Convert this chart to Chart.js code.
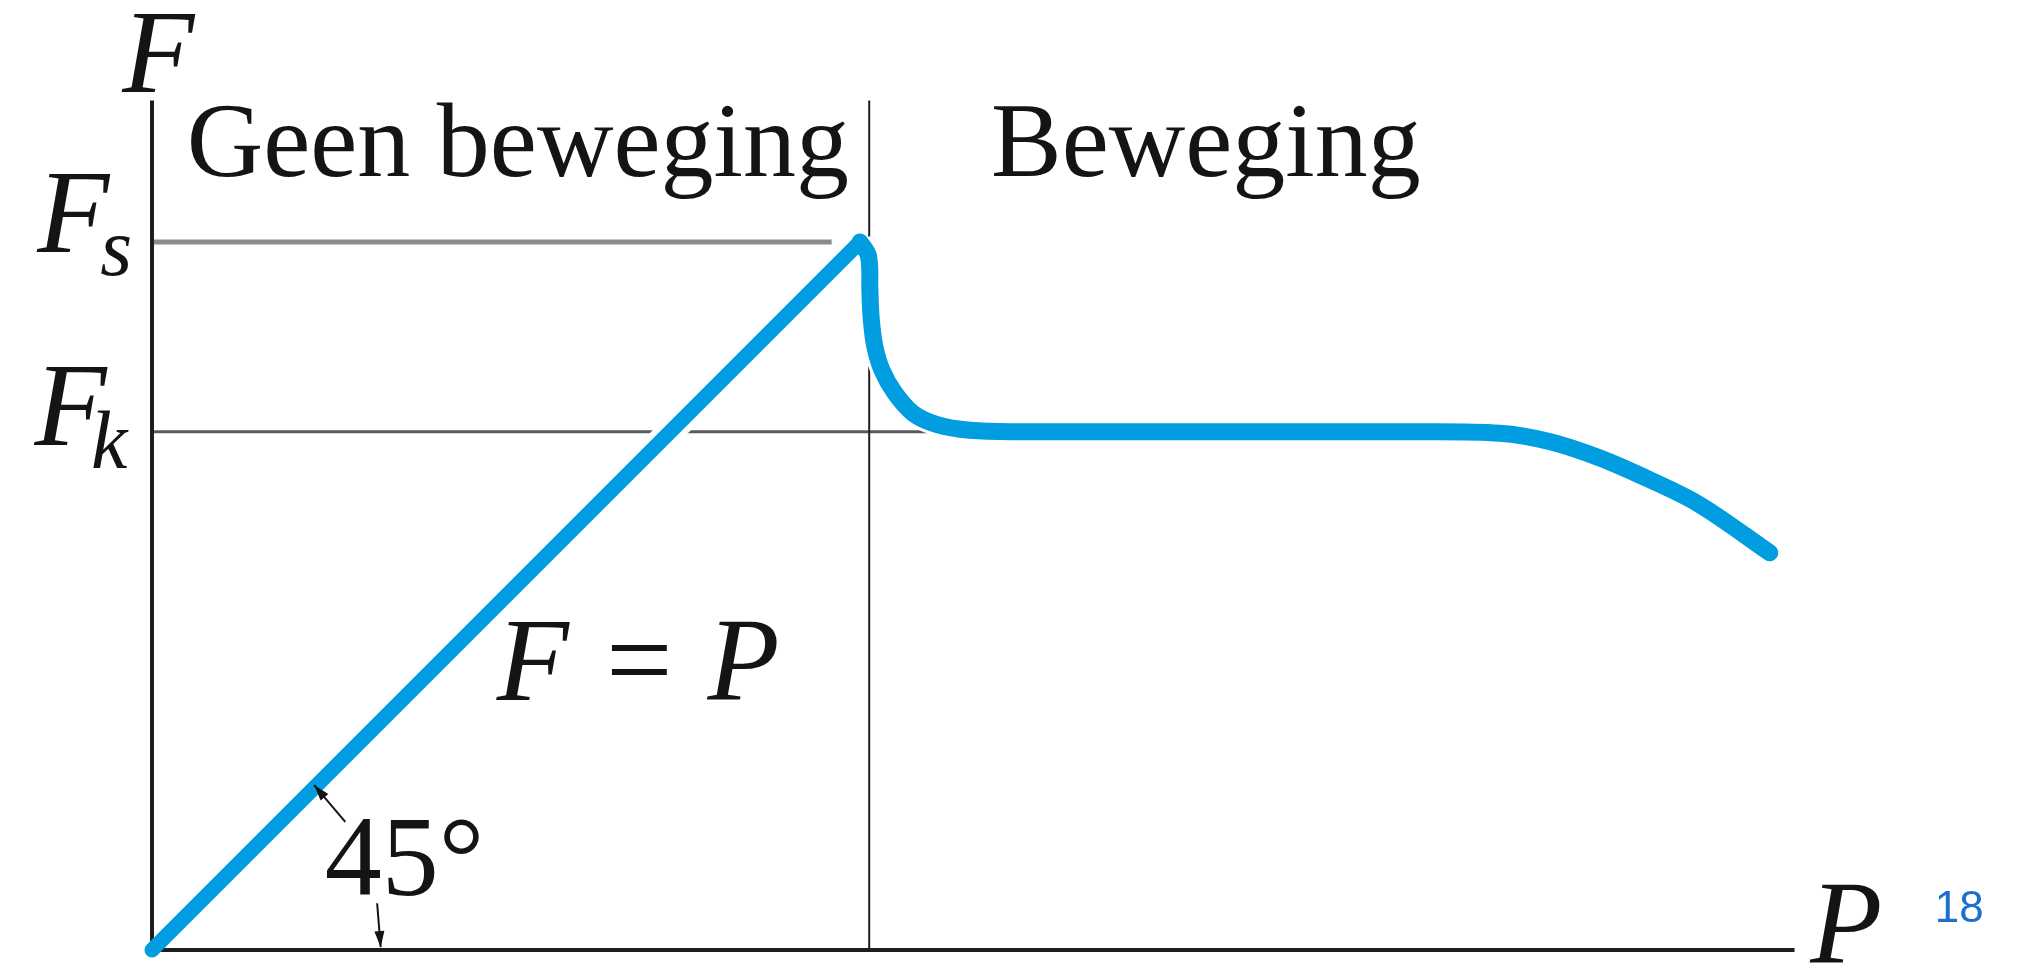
<!DOCTYPE html>
<html>
<head>
<meta charset="utf-8">
<script src="https://cdn.jsdelivr.net/npm/chart.js@4"></script>
<style>
  html, body { margin: 0; padding: 0; background: #fff; }
  canvas { display: block; }
</style>
</head>
<body>
<canvas id="fric" width="2019" height="964"></canvas>
<script>
// friction diagram: F against P, static peak then kinetic plateau
const riseP = [0, 10.0];
const riseF = [0, 10.0];
const dropP = [10.0, 10.12, 10.14, 10.16, 10.21, 10.31, 10.49, 10.75, 11.09, 11.55, 12.2, 17.63, 19.04, 19.75, 20.45, 21.16, 21.86, 22.85];
const dropF = [10.0, 9.80, 9.30, 8.90, 8.52, 8.19, 7.87, 7.58, 7.42, 7.34, 7.32, 7.32, 7.30, 7.18, 6.95, 6.64, 6.29, 5.61];
const FS = 10.0;      // static friction level
const FK = 7.32;      // kinetic friction level
const fsEnd = 9.6;
const fkEnd = 10.96;
const splitP = 10.13; // Geen beweging | Beweging
const axisP = 23.2;
const axisF = 12.0;

const BLUE = '#009ee0';
const pts = (xs, ys) => xs.map((x, i) => ({ x, y: ys[i] }));
const seg = (x0, y0, x1, y1) => [{ x: x0, y: y0 }, { x: x1, y: y1 }];

const base = { showLine: true, pointRadius: 0, clip: false, tension: 0 };

const labels = {
  id: 'labels',
  afterDatasetsDraw(chart) {
    const { ctx, scales: { x, y } } = chart;
    const px = (v) => x.getPixelForValue(v);
    const py = (v) => y.getPixelForValue(v);
    const txt = (s, vx, vy, font, color) => {
      ctx.font = font;
      ctx.fillStyle = color || '#141414';
      ctx.textBaseline = 'alphabetic';
      ctx.textAlign = 'left';
      ctx.fillText(s, px(vx), py(vy));
    };
    const serif = '"Liberation Serif", "DejaVu Serif", serif';
    ctx.save();
    txt('F', -0.42, 12.12, `italic 118px ${serif}`);
    txt('Geen beweging', 0.49, 10.93, `106px ${serif}`);
    txt('Beweging', 11.85, 10.93, `106px ${serif}`);
    txt('F', -1.62, 9.86, `italic 118px ${serif}`);
    txt('s', -0.73, 9.53, `italic 82px ${serif}`);
    txt('F', -1.66, 7.13, `italic 118px ${serif}`);
    txt('k', -0.86, 6.81, `italic 82px ${serif}`);
    txt('F = P', 4.87, 3.53, `italic 118px ${serif}`);
    txt('45°', 2.44, 0.78, `114px ${serif}`);
    txt('P', 23.42, -0.18, `italic 118px ${serif}`);
    txt('18', 25.18, 0.4, '44px "Liberation Sans", Arial, sans-serif', '#1d6fce');

    // angle arrows
    const arrow = (x0, y0, x1, y1) => {
      const a = [px(x0), py(y0)], b = [px(x1), py(y1)];
      const ang = Math.atan2(b[1] - a[1], b[0] - a[0]);
      ctx.strokeStyle = '#141414';
      ctx.fillStyle = '#141414';
      ctx.lineWidth = 2;
      ctx.beginPath(); ctx.moveTo(a[0], a[1]); ctx.lineTo(b[0], b[1]); ctx.stroke();
      const L = 16, W = 5;
      ctx.beginPath();
      ctx.moveTo(b[0], b[1]);
      ctx.lineTo(b[0] - L * Math.cos(ang) + W * Math.sin(ang), b[1] - L * Math.sin(ang) - W * Math.cos(ang));
      ctx.lineTo(b[0] - L * Math.cos(ang) - W * Math.sin(ang), b[1] - L * Math.sin(ang) + W * Math.cos(ang));
      ctx.closePath(); ctx.fill();
    };
    arrow(2.73, 1.81, 2.29, 2.33);
    arrow(3.18, 0.66, 3.23, 0.04);
    ctx.restore();
  }
};

new Chart(document.getElementById('fric'), {
  type: 'scatter',
  data: {
    datasets: [
      { ...base, data: pts(riseP, riseF), borderColor: BLUE, borderWidth: 15, borderCapStyle: 'round', borderJoinStyle: 'round', order: 0 },
      { ...base, data: pts(dropP, dropF), borderColor: BLUE, borderWidth: 17, borderCapStyle: 'round', borderJoinStyle: 'round', tension: 0.35, order: 0 },
      { ...base, data: seg(0, 0, axisP, 0), borderColor: '#1e1e1e', borderWidth: 4, order: 1 },
      { ...base, data: seg(0, 0, 0, axisF), borderColor: '#1e1e1e', borderWidth: 4, order: 1 },
      { ...base, data: pts(riseP, riseF), borderColor: '#fff', borderWidth: 27, order: 2 },
      { ...base, data: pts(dropP, dropF), borderColor: '#fff', borderWidth: 23, tension: 0.35, order: 2 },
      { ...base, data: seg(splitP, 0, splitP, axisF), borderColor: '#1e1e1e', borderWidth: 2, order: 3 },
      { ...base, data: seg(0, FS, fsEnd, FS), borderColor: '#8c8c8c', borderWidth: 5, order: 4 },
      { ...base, data: seg(0, FK, fkEnd, FK), borderColor: '#5a5a5a', borderWidth: 3, order: 4 },
    ]
  },
  options: {
    responsive: false,
    animation: false,
    layout: { padding: { left: 152, right: 26.2, top: 29.6, bottom: 14 } },
    scales: {
      x: { type: 'linear', min: 0, max: 26, display: false },
      y: { type: 'linear', min: 0, max: 13, display: false }
    },
    plugins: { legend: { display: false }, tooltip: { enabled: false } }
  },
  plugins: [labels]
});
</script>
</body>
</html>
